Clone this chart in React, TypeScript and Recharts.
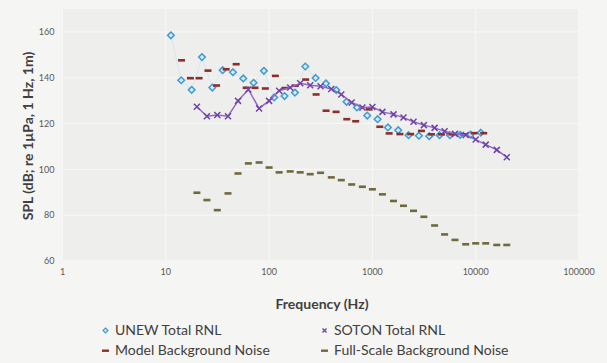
import React from 'react';
import { ScatterChart, Scatter, XAxis, YAxis, CartesianGrid } from 'recharts';

// 1/3-octave band values
const UNEW_FREQ = [11.2, 14.1, 17.8, 22.4, 28.2, 35.5, 44.7, 56.2, 70.8, 89.1, 112, 141, 178, 224, 282, 355, 447, 562, 708, 891, 1122, 1413, 1778, 2239, 2818, 3548, 4467, 5623, 7079, 8913, 11220];
const UNEW_SPL = [158.5, 138.9, 134.7, 149.0, 135.7, 143.3, 142.4, 139.7, 137.8, 143.0, 131.4, 132.0, 133.5, 144.9, 139.9, 137.5, 134.6, 129.5, 127.0, 123.5, 121.9, 118.3, 117.1, 114.9, 114.7, 114.5, 114.9, 114.9, 115.1, 115.2, 116.0];

const SOTON_FREQ = [20, 25, 31.5, 40, 50, 63, 80, 100, 125, 160, 200, 250, 315, 400, 500, 630, 800, 1000, 1250, 1600, 2000, 2500, 3150, 4000, 5000, 6300, 8000, 10000, 12500, 16000, 20000];
const SOTON_SPL = [127.3, 123.2, 123.7, 123.2, 129.9, 134.9, 126.6, 129.9, 134.3, 135.7, 137.6, 136.7, 136.3, 135.1, 132.7, 129.2, 127.0, 127.2, 125.1, 124.0, 122.6, 120.8, 119.3, 118.1, 116.6, 115.5, 115.0, 113.0, 110.8, 108.5, 105.3];

const MODEL_FREQ = [14.2, 17.3, 21, 25.6, 31, 38.4, 48, 60, 73, 92, 115, 143, 179, 226, 285, 356, 445, 565, 689, 929, 1180, 1452, 1845, 2345, 2983, 3727, 4656, 5870, 7590, 9650, 11950];
const MODEL_SPL = [147.6, 139.8, 139.8, 143.1, 136.6, 143.7, 145.9, 135.6, 135.6, 135.3, 140.8, 135.5, 136.5, 139.2, 132.7, 125.6, 125.1, 121.9, 121.0, 126.2, 118.6, 115.7, 115.4, 115.4, 116.8, 115.3, 115.3, 115.3, 115.3, 115.8, 115.8];

const FULL_FREQ = SOTON_FREQ;
const FULL_SPL = [89.8, 86.6, 82.2, 89.5, 98.2, 102.6, 103.0, 100.8, 98.7, 99.1, 98.7, 97.9, 98.5, 96.5, 95.3, 93.4, 92.4, 91.3, 89.1, 86.2, 84.1, 81.9, 79.3, 75.5, 71.6, 69.2, 67.3, 67.7, 67.7, 67.0, 67.0];

const X_TICKS = [1, 10, 100, 1000, 10000, 100000];
const Y_TICKS = [60, 80, 100, 120, 140, 160];

const toPoints = (freq: number[], spl: number[]) => freq.map((f, i) => ({ f, spl: spl[i] }));

const FONT = 'Lato, "Noto Sans", sans-serif';
const MODEL_COLOR = '#8c2f2b';
const FULL_COLOR = '#6f6a3e';

function DiamondDot(props: any) {
  const { cx, cy } = props;
  if (cx == null || cy == null) return null;
  const r = 3.3;
  return (
    <path
      d={`M${cx},${cy - r}L${cx + r},${cy}L${cx},${cy + r}L${cx - r},${cy}Z`}
      fill="#d8eaf5"
      stroke="#3f9bd4"
      strokeWidth={1.5}
    />
  );
}

function CrossDot(props: any) {
  const { cx, cy } = props;
  if (cx == null || cy == null) return null;
  const r = 3;
  return (
    <path
      d={`M${cx - r},${cy - r}L${cx + r},${cy + r}M${cx - r},${cy + r}L${cx + r},${cy - r}`}
      stroke="#6f42a8"
      strokeWidth={1.5}
      fill="none"
    />
  );
}

const makeDash = (color: string) => (props: any) => {
  const { cx, cy } = props;
  if (cx == null || cy == null) return null;
  return <rect x={cx - 3.5} y={cy - 1.3} width={7} height={2.6} fill={color} />;
};

function LegendItem({ marker, label }: { marker: React.ReactNode; label: string }) {
  return (
    <div style={{ display: 'flex', alignItems: 'center', gap: 5 }}>
      <svg width={9} height={9}>{marker}</svg>
      <span>{label}</span>
    </div>
  );
}

export default function App() {
  return (
    <div
      style={{
        position: 'absolute',
        left: 0,
        top: 0,
        width: 607,
        height: 363,
        background: '#f5f5f3',
        fontFamily: FONT,
        overflow: 'hidden',
      }}
    >
      <ScatterChart width={607} height={363} margin={{ top: 9, right: 28, bottom: 72, left: 0 }}>
        <CartesianGrid fill="#eeeeec" stroke="#f8f8f8" horizontalValues={Y_TICKS} verticalValues={X_TICKS} />
        <XAxis
          dataKey="f"
          type="number"
          scale="log"
          domain={[1, 100000]}
          ticks={X_TICKS}
          allowDataOverflow
          axisLine={false}
          tickLine={false}
          height={30}
          tick={{ fill: '#595959', fontSize: 9, fontFamily: FONT }}
        />
        <YAxis
          dataKey="spl"
          type="number"
          domain={[60, 170]}
          ticks={Y_TICKS}
          axisLine={false}
          tickLine={false}
          width={62.5}
          tick={{ fill: '#595959', fontSize: 9, fontFamily: FONT }}
        />
        <Scatter
          name="UNEW Total RNL"
          data={toPoints(UNEW_FREQ, UNEW_SPL)}
          line={{ stroke: '#d4e6f1', strokeWidth: 1 }}
          shape={DiamondDot}
          isAnimationActive={false}
        />
        <Scatter
          name="Model Background Noise"
          data={toPoints(MODEL_FREQ, MODEL_SPL)}
          shape={makeDash(MODEL_COLOR)}
          isAnimationActive={false}
        />
        <Scatter
          name="Full-Scale Background Noise"
          data={toPoints(FULL_FREQ, FULL_SPL)}
          shape={makeDash(FULL_COLOR)}
          isAnimationActive={false}
        />
        <Scatter
          name="SOTON Total RNL"
          data={toPoints(SOTON_FREQ, SOTON_SPL)}
          line={{ stroke: '#9367c4', strokeWidth: 1.5 }}
          shape={CrossDot}
          isAnimationActive={false}
        />
      </ScatterChart>

      {/* axis titles */}
      <div
        style={{
          position: 'absolute',
          left: 27,
          top: 136,
          transform: 'translate(-50%, -50%) rotate(-90deg)',
          whiteSpace: 'nowrap',
          fontWeight: 700,
          fontSize: 14,
          color: '#404040',
        }}
      >
        SPL (dB; re 1µPa, 1 Hz, 1m)
      </div>
      <div
        style={{
          position: 'absolute',
          left: 322,
          top: 303,
          transform: 'translate(-50%, -50%)',
          whiteSpace: 'nowrap',
          fontWeight: 700,
          fontSize: 14,
          color: '#404040',
        }}
      >
        Frequency (Hz)
      </div>

      {/* legend */}
      <div
        style={{
          position: 'absolute',
          left: 101,
          top: 322,
          display: 'grid',
          gridTemplateColumns: '219px auto',
          rowGap: 4,
          fontSize: 14,
          color: '#404040',
          lineHeight: '16px',
        }}
      >
        <LegendItem marker={<path d="M4.5,2L7,4.5L4.5,7L2,4.5Z" fill="#d8eaf5" stroke="#3f9bd4" strokeWidth={1.2} />} label="UNEW Total RNL" />
        <LegendItem marker={<path d="M2.5,2.5L6.5,6.5M2.5,6.5L6.5,2.5" stroke="#6f42a8" strokeWidth={1.4} />} label="SOTON Total RNL" />
        <LegendItem marker={<rect x={1} y={3.5} width={7} height={2.4} fill={MODEL_COLOR} />} label="Model Background Noise" />
        <LegendItem marker={<rect x={1} y={3.5} width={7} height={2.4} fill={FULL_COLOR} />} label="Full-Scale Background Noise" />
      </div>
    </div>
  );
}
